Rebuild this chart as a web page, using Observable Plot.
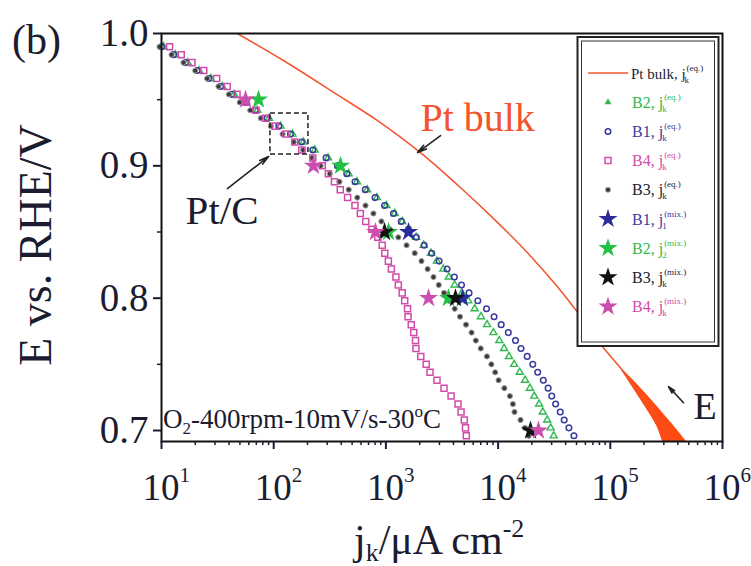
<!DOCTYPE html>
<html><head><meta charset="utf-8">
<script src="https://cdn.jsdelivr.net/npm/d3@7"></script>
<script src="https://cdn.jsdelivr.net/npm/@observablehq/plot@0.6"></script>
<style>html,body{margin:0;padding:0;background:#fff}svg{display:block}</style>
</head><body><div id="chart"></div>
<script>
// ---------- data (E in V vs RHE, jk in µA cm^-2) ----------
const E_grid = [0.990,0.984,0.978,0.972,0.966,0.960,0.954,0.948,0.942,0.936,0.930,0.924,0.918,0.912,0.906,0.900,0.894,0.888,0.882,0.876,0.870,0.864,0.858,0.852,0.846,0.840,0.834,0.828,0.822,0.816,0.810,0.804,0.798,0.792,0.786,0.780,0.774,0.768,0.762,0.756,0.750,0.744,0.738,0.732,0.726,0.720,0.714,0.708,0.702,0.696];
const B1_j = [10.0,12.8,16.4,20.8,26.4,33.6,42.6,54.2,68.7,87.3,111,141,177,223,293,370,448,531,655,800,973,1167,1371,1588,1867,2193,2564,2979,3508,4074,4721,5508,6592,7885,9204,10660,12330,14290,16000,18160,20370,22540,25290,27930,30060,32580,35810,38820,42760,47430];
const B2_j = [10.4,13.3,17.1,21.6,27.5,34.9,44.3,56.4,71.4,90.8,115,147,184,232,305,385,466,552,681,832,1010,1200,1400,1600,1860,2170,2520,2850,3250,3640,4100,4750,5420,6180,7030,7980,9080,10250,11300,12500,13900,15600,17400,19200,21000,23200,25000,27400,29400,31300];
const B3_j = [9.6,12.3,15.7,20.0,25.5,32.2,39.9,49.8,61.8,76.9,94.2,120,151,183,219,262,316,385,466,556,658,774,912,1089,1291,1528,1807,2075,2354,2655,2958,3296,3681,4105,4576,5176,5803,6330,7000,7945,8710,9420,10100,11370,12740,13540,14000,15850,17350,18750];
const B4_j = [11.8,15.0,18.7,23.8,31.0,38.5,47.1,57.1,69.2,84.7,103,128,154,178,223,271,307,348,392,456,530,592,662,750,847,927,977,1052,1119,1228,1290,1397,1471,1560,1575,1682,1771,1837,1854,2046,2286,2472,2853,3296,3810,4395,4677,5000,5120,5210];

const PtBulk_E = [1.000,0.9796,0.9546,0.9342,0.910,0.885,0.8624,0.836,0.8095,0.7884,0.7642,0.7491,0.7339,0.7188,0.7037,0.6916];
const PtBulk_j = [47.5,122,356,842,2030,4430,8550,17500,33100,52100,83600,118300,164400,223400,291900,358400];
const PtBand_E   = [0.7453,0.7339,0.7188,0.7037,0.6916];
const PtBand_jLo = [125900,154500,201700,258200,291900];
const PtBand_jHi = [131200,178400,258200,365600,477600];

const starB1_E = [0.85,0.80],                 starB1_j = [1590,4820];
const starB2_E = [0.95,0.90,0.85,0.80],       starB2_j = [73.3,394,1055,3610];
const starB3_E = [0.85,0.80,0.70],            starB3_j = [973,4170,19450];
const starB4_E = [0.95,0.90,0.85,0.80,0.70],  starB4_j = [56.1,226,807,2400,22900];

const xTicks = [1e1,1e2,1e3,1e4,1e5,1e6];
const xTickExp = ["1","2","3","4","5","6"];
const xMinorMult = [2,3,4,5,6,7,8,9];
const yTicks = [0.7,0.8,0.9,1.0];
const yMinorTicks = [0.75,0.85,0.95];

const annotLabels = [
  {text:"Pt bulk", j:2030,   E:0.9267, color:"#f2542d", size:40},
  {text:"Pt/C",    j:16.4,   E:0.8564, color:"#1c1c30", size:41},
  {text:"E",       j:551000, E:0.709,  color:"#1c1c30", size:38}
];
const arrows = [
  {j1:3070,   E1:0.9229, j2:1915,   E2:0.9100},
  {j1:38.7,   E1:0.8828, j2:90,     E2:0.9070},
  {j1:449000, E1:0.7210, j2:330000, E2:0.7332}
];
const zoomBox = [{j1:93.5, j2:204, E1:0.9085, E2:0.9395}];

// ---------- styling ----------
const FONT = "'Liberation Serif','Times New Roman',serif";
const INK = "#1c1c30";
const PT = "#f2542d", PT_BAND = "#ff4a12";
const GREEN = "#2fb84c", BLUE = "#3a3aa0", MAGENTA = "#d04ca8", GREY = "#3a3a3a";
const GREEN_S = "#22c043", BLUE_S = "#2b2b9c", BLACK_S = "#111", MAGENTA_S = "#cc4fb0";

const tbl = (E, j) => E.map((e, i) => ({E: e, j: j[i]}));
const band = PtBand_E.map((e, i) => ({E: e, lo: PtBand_jLo[i], hi: PtBand_jHi[i]}));
const xMinor = xTicks.slice(0, -1).flatMap(d => xMinorMult.map(m => d * m));

const chart = Plot.plot({
  width: 751, height: 566,
  marginLeft: 161, marginRight: 29, marginTop: 33, marginBottom: 125,
  style: {fontFamily: FONT, background: "#fff", color: INK, overflow: "visible"},
  x: {type: "log", domain: [10, 1e6]},
  y: {domain: [0.6917, 1.0]},
  marks: [
    Plot.areaX(band, {y: "E", x1: "lo", x2: "hi", fill: PT_BAND, curve: "monotone-y", clip: true}),
    Plot.line(tbl(PtBulk_E, PtBulk_j), {x: "j", y: "E", stroke: PT, strokeWidth: 1.5, curve: "monotone-y", clip: true}),
    Plot.dot(tbl(E_grid, B2_j), {x: "j", y: "E", symbol: "triangle", r: 2.6, stroke: GREEN, fill: "none", strokeWidth: 1.4}),
    Plot.dot(tbl(E_grid, B1_j), {x: "j", y: "E", symbol: "circle", r: 2.8, stroke: BLUE, fill: "none", strokeWidth: 1.5}),
    Plot.dot(tbl(E_grid, B3_j), {x: "j", y: "E", symbol: "circle", r: 2.6, fill: GREY, stroke: "#a0a0a0", strokeWidth: 1}),
    Plot.dot(tbl(E_grid, B4_j), {x: "j", y: "E", symbol: "square", r: 3.4, stroke: MAGENTA, fill: "none", strokeWidth: 1.5}),
    Plot.dot(tbl(starB2_E, starB2_j), {x: "j", y: "E", symbol: "star", r: 6, fill: GREEN_S}),
    Plot.dot(tbl(starB1_E, starB1_j), {x: "j", y: "E", symbol: "star", r: 6, fill: BLUE_S}),
    Plot.dot(tbl(starB3_E, starB3_j), {x: "j", y: "E", symbol: "star", r: 6, fill: BLACK_S}),
    Plot.dot(tbl(starB4_E, starB4_j), {x: "j", y: "E", symbol: "star", r: 6, fill: MAGENTA_S}),
    Plot.rect(zoomBox, {x1: "j1", x2: "j2", y1: "E1", y2: "E2", fill: "none", stroke: "#222", strokeWidth: 1.5, strokeDasharray: "5,3"}),
    Plot.arrow(arrows, {x1: "j1", y1: "E1", x2: "j2", y2: "E2", stroke: "#222", strokeWidth: 1.6, headLength: 9, headAngle: 28}),
    ...annotLabels.map(a => Plot.text([a], {x: "j", y: "E", text: "text", fill: a.color, fontSize: a.size, textAnchor: "start", lineAnchor: "bottom"})),
    Plot.frame({stroke: "#111", strokeWidth: 2}),
    Plot.axisY({ticks: yTicks, tickSize: 8, tickPadding: 5, tickFormat: d3.format(".1f"), fontSize: 39, strokeWidth: 2, label: null}),
    Plot.axisY({ticks: yMinorTicks, tickSize: 4, tickFormat: () => "", strokeWidth: 1.5, label: null}),
    Plot.axisX({ticks: xTicks, tickSize: 8, tickFormat: () => "", strokeWidth: 2, label: null}),
    Plot.axisX({ticks: xMinor, tickSize: 4, tickFormat: () => "", strokeWidth: 1.5, label: null})
  ]
});
document.getElementById("chart").append(chart);

const svg = d3.select(chart);
const sx = chart.scale("x"), sy = chart.scale("y");
svg.selectAll('g[aria-label="y-axis tick label"]').attr("font-size", 39).attr("fill", INK);

// x tick labels 10^n
const xl = svg.append("g").attr("font-family", FONT).attr("fill", INK).attr("text-anchor", "start");
xTicks.forEach((d, i) => {
  const cx = sx.apply(d);
  const t = xl.append("text").attr("x", cx).attr("y", 500).attr("text-anchor", "middle").attr("font-size", 37).text("10");
  const w = t.node().getComputedTextLength();
  xl.append("text").attr("x", cx + w / 2).attr("y", 482).attr("font-size", 21).text(xTickExp[i]);
});

// axis titles
svg.append("text").attr("font-family", FONT).attr("fill", INK).attr("font-size", 46)
  .attr("text-anchor", "middle").attr("transform", "translate(51,245) rotate(-90)")
  .text("E vs. RHE/V");
const xt = svg.append("text").attr("font-family", FONT).attr("fill", INK).attr("font-size", 42)
  .attr("text-anchor", "start").attr("x", 354).attr("y", 554);
xt.append("tspan").text("j");
xt.append("tspan").attr("font-size", 26).attr("dy", 7).text("k");
xt.append("tspan").attr("dy", -7).text("/\u03bcA cm");
xt.append("tspan").attr("font-size", 26).attr("dy", -17).text("-2");

// panel label
svg.append("text").attr("font-family", FONT).attr("fill", INK).attr("font-size", 42)
  .attr("text-anchor", "start").attr("x", 12).attr("y", 54).text("(b)");

// condition label
const cond = svg.append("text").attr("font-family", FONT).attr("fill", INK).attr("font-size", 27)
  .attr("text-anchor", "start").attr("x", sx.apply(10.4)).attr("y", sy.apply(0.7014));
cond.append("tspan").text("O");
cond.append("tspan").attr("font-size", 17).attr("dy", 6).text("2");
cond.append("tspan").attr("dy", -6).text("-400rpm-10mV/s-30");
cond.append("tspan").attr("font-size", 17).attr("dy", -11).text("o");
cond.append("tspan").attr("dy", 11).text("C");

// legend
const lg = svg.append("g").attr("font-family", FONT).attr("text-anchor", "start");
lg.append("rect").attr("x", 577.5).attr("y", 37).attr("width", 141).attr("height", 309).attr("fill", "#fff").attr("stroke", "#222").attr("stroke-width", 2);
lg.append("rect").attr("x", 581.5).attr("y", 41).attr("width", 133).attr("height", 301).attr("fill", "none").attr("stroke", "#333").attr("stroke-width", 1);
const rows = [
  {kind: "line", color: PT, label: "Pt bulk, j", sup: "(eq.)", sub: "k", text: INK, size: 15},
  {kind: "triangle", color: GREEN, label: "B2, j", sup: "(eq.)", sub: "k", text: GREEN, size: 16},
  {kind: "circle", color: BLUE, label: "B1, j", sup: "(eq.)", sub: "k", text: BLUE, size: 16},
  {kind: "square", color: MAGENTA, label: "B4, j", sup: "(eq.)", sub: "k", text: MAGENTA, size: 16},
  {kind: "dot", color: GREY, label: "B3, j", sup: "(eq.)", sub: "k", text: INK, size: 16},
  {kind: "star", color: BLUE_S, label: "B1, j", sup: "(mix.)", sub: "1", text: BLUE, size: 16},
  {kind: "star", color: GREEN_S, label: "B2, j", sup: "(mix.)", sub: "2", text: GREEN, size: 16},
  {kind: "star", color: BLACK_S, label: "B3, j", sup: "(mix.)", sub: "k", text: INK, size: 16},
  {kind: "star", color: MAGENTA_S, label: "B4, j", sup: "(mix.)", sub: "k", text: MAGENTA, size: 16}
];
rows.forEach((r, i) => {
  const y = 73 + i * 29.2, mx = 608;
  if (r.kind === "line") {
    lg.append("line").attr("x1", 588).attr("x2", 628).attr("y1", y).attr("y2", y).attr("stroke", r.color).attr("stroke-width", 1.6);
  } else {
    const sym = {triangle: d3.symbolTriangle, circle: d3.symbolCircle, square: d3.symbolSquare, dot: d3.symbolCircle, star: d3.symbolStar}[r.kind];
    const size = {triangle: 20, circle: 24, square: 36, dot: 20, star: 113}[r.kind];
    const p = lg.append("path").attr("d", d3.symbol(sym, size)()).attr("transform", `translate(${mx},${y})`);
    if (r.kind === "triangle" || r.kind === "star") p.attr("fill", r.color);
    else if (r.kind === "dot") p.attr("fill", GREY).attr("stroke", "#a0a0a0");
    else p.attr("fill", "none").attr("stroke", r.color).attr("stroke-width", 1.5);
  }
  const tx = r.kind === "line" ? 631 : 632, by = y + 5.5;
  const t = lg.append("text").attr("x", tx).attr("y", by).attr("font-size", r.size).attr("fill", r.text).text(r.label);
  const w = t.node().getComputedTextLength();
  lg.append("text").attr("x", tx + w + 1).attr("y", by - 8).attr("font-size", 9).attr("fill", r.text).text(r.sup);
  lg.append("text").attr("x", tx + w - 1).attr("y", by + 4).attr("font-size", 9).attr("fill", r.text).text(r.sub);
});
</script>
</body></html>
